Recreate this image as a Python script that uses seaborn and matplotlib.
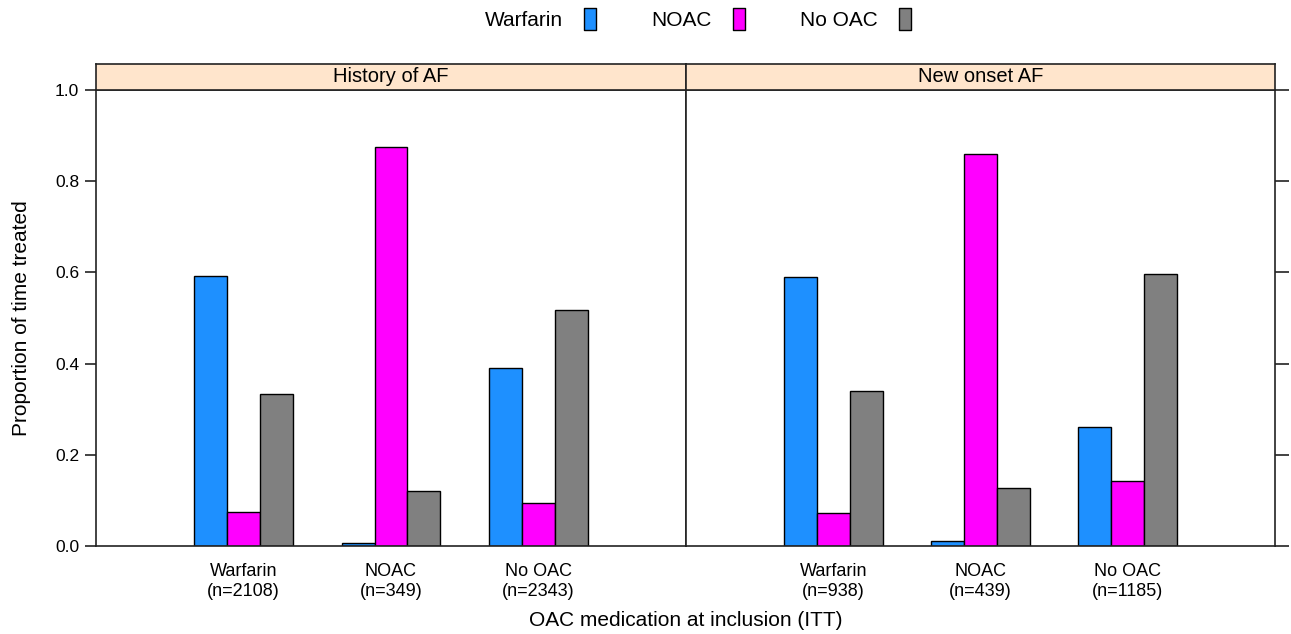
import numpy as np
import pandas as pd
import matplotlib
matplotlib.use("Agg")
import matplotlib.pyplot as plt
import seaborn as sns
from matplotlib.lines import Line2D
from matplotlib.path import Path

# Treatment groups at inclusion and treatment received over follow-up
panels = ["History of AF", "New onset AF"]
groups = ["Warfarin", "NOAC", "No OAC"]
treatments = ["Warfarin", "NOAC", "No OAC"]
group_n = {
    "History of AF": [2108, 349, 2343],
    "New onset AF": [938, 439, 1185],
}

# Proportion of time treated, one list per treatment, ordered by group
history_warfarin = [0.592, 0.006, 0.390]
history_noac = [0.075, 0.875, 0.094]
history_nooac = [0.333, 0.120, 0.518]

newonset_warfarin = [0.590, 0.011, 0.261]
newonset_noac = [0.072, 0.860, 0.143]
newonset_nooac = [0.340, 0.127, 0.597]

colors = ["#1E90FF", "#FF00FF", "#808080"]

values = {
    "History of AF": [history_warfarin, history_noac, history_nooac],
    "New onset AF": [newonset_warfarin, newonset_noac, newonset_nooac],
}

rows = []
for p in panels:
    for t, series in zip(treatments, values[p]):
        for g, v in zip(groups, series):
            rows.append({"panel": p, "group": g, "treatment": t, "value": v})
df = pd.DataFrame(rows)

sns.set_theme(style="white")
plt.rcParams["font.family"] = ["Liberation Sans", "DejaVu Sans"]
plt.rcParams["text.color"] = "black"
plt.rcParams["xtick.labelcolor"] = "black"
plt.rcParams["ytick.labelcolor"] = "black"

W, H = 1291, 634
fig = plt.figure(figsize=(W / 100, H / 100), dpi=100)

left_px, mid_px, right_px = 96, 686, 1275
top_px, bot_px, strip_top_px = 90, 546, 64

def fx(x):
    return x / W

def fy(y):
    return 1 - y / H

edge_col = "#222222"
for i, p in enumerate(panels):
    x0 = left_px if i == 0 else mid_px
    x1 = mid_px if i == 0 else right_px
    ax = fig.add_axes([fx(x0), fy(bot_px), fx(x1 - x0), fy(top_px) - fy(bot_px)])
    sub = df[df["panel"] == p]
    sns.barplot(
        data=sub, x="group", y="value", hue="treatment",
        order=groups, hue_order=treatments, palette=colors, saturation=1,
        width=0.67, edgecolor="black", linewidth=1.0,
        legend=False, ax=ax, errorbar=None,
    )
    ax.set_xlim(-1, 3)
    ax.set_ylim(0, 1)
    ax.set_xlabel("")
    ax.set_ylabel("")
    ax.set_xticks(range(len(groups)))
    ax.set_xticklabels([f"{g}\n(n={n})" for g, n in zip(groups, group_n[p])],
                       fontsize=13, linespacing=1.25)
    ax.set_yticks(np.arange(0, 1.01, 0.2))
    ax.set_yticklabels([f"{t:.1f}" for t in np.arange(0, 1.01, 0.2)], fontsize=12.5)
    ax.tick_params(axis="x", length=0, pad=12)
    if i == 0:
        ax.tick_params(axis="y", direction="out", length=8, width=1.2,
                       left=True, right=False, labelleft=True, pad=4,
                       color=edge_col)
    else:
        ax.tick_params(axis="y", direction="out", length=10, width=1.2,
                       left=False, right=True, labelleft=False,
                       color=edge_col)
    for s in ax.spines.values():
        s.set_visible(True)
        s.set_color(edge_col)
        s.set_linewidth(1.2)

    # Panel strip with title
    sax = fig.add_axes([fx(x0), fy(top_px), fx(x1 - x0), fy(strip_top_px) - fy(top_px)])
    sax.set_facecolor("#FFE5CC")
    sax.set_xticks([])
    sax.set_yticks([])
    for s in sax.spines.values():
        s.set_color(edge_col)
        s.set_linewidth(1.2)
    sax.text(0.5, 0.5, p, ha="center", va="center", fontsize=14.5,
             transform=sax.transAxes)

fig.text(fx(22), fy((top_px + bot_px) / 2), "Proportion of time treated",
         rotation=90, ha="center", va="center", fontsize=15)
fig.text(fx((left_px + right_px) / 2), fy(621), "OAC medication at inclusion (ITT)",
         ha="center", va="center", fontsize=15)

# Legend keys: tall narrow rectangles
rect = Path([(-0.25, -0.5), (0.25, -0.5), (0.25, 0.5), (-0.25, 0.5), (-0.25, -0.5)],
            [Path.MOVETO, Path.LINETO, Path.LINETO, Path.LINETO, Path.CLOSEPOLY])
handles = [Line2D([], [], linestyle="none", marker=rect, markersize=16,
                  markerfacecolor=c, markeredgecolor="black", markeredgewidth=1.0)
           for c in colors]
fig.legend(handles, treatments, loc="center", bbox_to_anchor=(fx(700), fy(21)),
           ncol=3, frameon=False, markerfirst=False, fontsize=15,
           handlelength=1.0, handletextpad=0.8, columnspacing=2.45)

fig.savefig("out.png", dpi=100, facecolor="white")
